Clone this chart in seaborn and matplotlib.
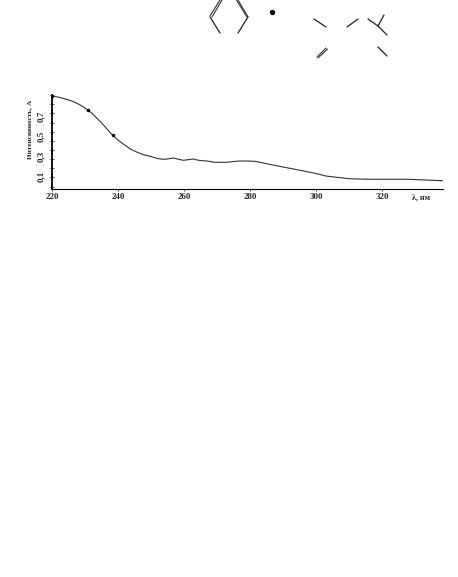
import matplotlib
matplotlib.use("Agg")
import matplotlib.pyplot as plt
import pandas as pd
import seaborn as sns

wavelength = [220, 222, 224, 226, 228, 230, 232, 234, 236, 238, 240, 242, 244, 246, 248, 250, 252, 253.5,
              255, 256.8, 258, 259.8, 261, 262.8, 264, 265.4, 267, 269.4, 272.9, 275, 277, 279, 281.5,
              284, 287, 290, 294, 297, 300, 303, 306, 310, 315, 320, 328, 333, 338.5]
intensity = [0.90, 0.888, 0.87, 0.85, 0.82, 0.78, 0.73, 0.665, 0.595, 0.52, 0.46, 0.41, 0.365, 0.335, 0.31,
             0.295, 0.275, 0.267, 0.27, 0.28, 0.27, 0.257, 0.262, 0.27, 0.26, 0.253, 0.25, 0.237, 0.237,
             0.245, 0.25, 0.25, 0.247, 0.23, 0.21, 0.19, 0.165, 0.145, 0.125, 0.10, 0.088, 0.073, 0.068,
             0.067, 0.067, 0.06, 0.053]
dot_wavelength = [220, 231, 238.5]
dot_intensity = [0.90, 0.755, 0.505]
x_ticks = [220, 240, 260, 280, 300, 320]
y_labels = [0.1, 0.3, 0.5, 0.7]
y_tick_marks = [0.91, 0.82, 0.73, 0.63, 0.54, 0.45, 0.36, 0.27, 0.18, 0.09, -0.01]

# structure fragments above the plot, in image pixels
single_bonds = [
    ((210, 220), (17, 33)), ((248, 238), (17, 33)), ((314, 326), (19, 27)), ((347, 358), (27, 19)),
    ((368, 378), (19, 26)), ((378, 384), (26, 15)), ((378, 387), (26, 35)), ((378, 387), (47, 56)),
]
double_bonds = [
    ((220, 210), (0, 16)), ((222, 212), (0, 17)), ((238, 248), (0, 17)), ((236.5, 247), (0, 17)),
    ((317, 326), (57, 48)), ((318, 327.5), (58, 49)),
]
center_dot = (271.7, 12)

sns.set_theme(style="white", rc={"font.family": ["Liberation Serif", "DejaVu Serif"]})
fig = plt.figure(figsize=(4.58, 5.77), dpi=100, facecolor="white")
W, H = 458, 577

overlay = fig.add_axes([0, 0, 1, 1])
overlay.set_xlim(0, W)
overlay.set_ylim(H, 0)
overlay.axis("off")
for xs, ys in single_bonds:
    overlay.plot(xs, ys, color="#222222", lw=0.9)
for xs, ys in double_bonds:
    overlay.plot(xs, ys, color="#333333", lw=0.8)
overlay.plot(*center_dot, "o", color="black", ms=2.8)

top, bottom, left, right = 95, 189, 52, 443
ax = fig.add_axes([left / W, 1 - bottom / H, (right - left) / W, (bottom - top) / H])
ax.patch.set_alpha(0)
df = pd.DataFrame({"nm": wavelength, "A": intensity})
sns.lineplot(data=df, x="nm", y="A", color="#333333", lw=0.8, ax=ax, errorbar=None)
ax.plot(dot_wavelength, dot_intensity, "o", color="black", ms=1.5)
ax.set_xlim(220, 338.5)
ax.set_ylim(-0.03, 0.91)
ax.set_xlabel("")
ax.set_ylabel("")
for s in ("top", "right"):
    ax.spines[s].set_visible(False)
ax.spines["left"].set_linewidth(1.3)
ax.spines["bottom"].set_linewidth(0.8)
for s in ("left", "bottom"):
    ax.spines[s].set_color("black")
ax.set_xticks(x_ticks)
ax.set_xticklabels([str(v) for v in x_ticks], fontsize=6.4, fontweight="bold")
ax.set_yticks(y_labels)
ax.set_yticklabels([str(v).replace(".", ",") for v in y_labels], rotation=90, va="center",
                   fontsize=6.4, fontweight="bold")
ax.set_yticks(y_tick_marks, minor=True)
ax.tick_params(axis="x", which="major", direction="out", length=1.5, width=0.6, pad=1.2, bottom=True)
ax.tick_params(axis="y", which="major", length=0, pad=5, left=False)
ax.tick_params(axis="y", which="minor", direction="inout", length=3.2, width=0.6, left=True)
overlay.text(421, 197, "λ, нм", fontsize=5.8, fontweight="bold", ha="center", va="center")
overlay.text(30, 129, "Интенсивность, А", fontsize=5.2, fontweight="bold", rotation=90, ha="center", va="center")
fig.savefig("out.png", dpi=100)
